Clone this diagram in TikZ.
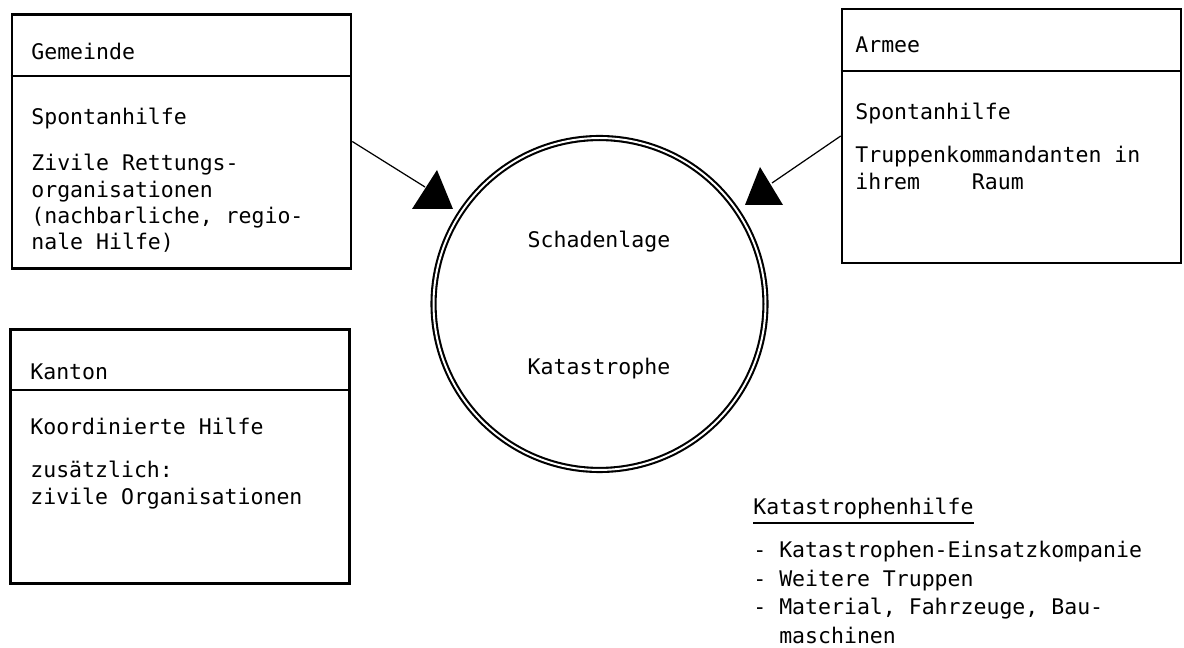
\documentclass[tikz,border=0pt]{standalone}
\usepackage{fontspec}
\setmainfont{DejaVu Sans Mono}
\usepackage{tikz}

\tikzset{
  box/.style={draw, line width=1.5pt, minimum width=6.78cm, minimum height=5.08cm, inner sep=0pt},
  txt/.style={anchor=base west, inner sep=0pt, align=left, font=\fontsize{12.25}{15}\selectfont},
  sep/.style={line width=1.3pt},
}

\begin{document}
\begin{tikzpicture}[x=0.02cm,y=-0.02cm]
\useasboundingbox (0,0) rectangle (1184,648);
% Gemeinde
\node[box] (gemeinde) at (181.5,141.5) {};
\draw[sep] ([yshift=-1.26cm]gemeinde.north west) -- ([yshift=-1.26cm]gemeinde.north east);
\node[txt] (gemname) at (31,60) {Gemeinde};
\node[txt] (gemhilfe) at (31,125) {Spontanhilfe};
\node[txt] (gemorg) at (31,250) {Zivile Rettungs-\\organisationen\\(nachbarliche, regio-\\nale Hilfe)};
% Armee
\node[box] (armee) at (1011.5,136) {};
\draw[sep] ([yshift=-1.26cm]armee.north west) -- ([yshift=-1.26cm]armee.north east);
\node[txt] (armname) at (855,53) {Armee};
\node[txt] (armhilfe) at (855,120) {Spontanhilfe};
\node[txt, font=\fontsize{12.25}{15.9}\selectfont] (armtrup) at (855,190) {Truppenkommandanten in\\ihrem\ \ \ \ Raum};
% Kanton
\node[box] (kanton) at (180,456.5) {};
\draw[sep] ([yshift=-1.24cm]kanton.north west) -- ([yshift=-1.24cm]kanton.north east);
\node[txt] (kanname) at (30,380) {Kanton};
\node[txt] (kanhilfe) at (30,435) {Koordinierte Hilfe};
\node[txt, font=\fontsize{12.25}{15.9}\selectfont] (kanorg) at (30,505) {zusätzlich:\\zivile Organisationen};
% Schadenlage
\node[circle, draw, double, line width=1.2pt, double distance=1.1pt, minimum size=6.64cm, inner sep=0pt, outer sep=0pt] (lage) at (599.5,304) {};
\node[txt, anchor=base] (schaden) at (599,248) {Schadenlage};
\node[txt, anchor=base] (kata) at (599,375) {Katastrophe};
% Pfeile
\coordinate (gtip) at (425,187);
\draw[line width=0.7pt] (gemeinde.east) -- (gtip);
\fill (437,170) -- (412,209) -- (453,209) -- cycle;
\coordinate (atip) at (772,183);
\draw[line width=0.7pt] (armee.west) -- (atip);
\fill (760,167) -- (745,205) -- (783,205) -- cycle;
% Katastrophenhilfe
\node[txt] (hilfe) at (753,515) {Katastrophenhilfe};
\draw[line width=0.9pt] ([yshift=-4.5pt]hilfe.base west) -- ([yshift=-4.5pt]hilfe.base east);
\node[txt, font=\fontsize{12.25}{16.2}\selectfont] (liste) at (753,643) {- Katastrophen-Einsatzkompanie\\- Weitere Truppen\\- Material, Fahrzeuge, Bau-\\\phantom{- }maschinen};
\end{tikzpicture}
\end{document}
